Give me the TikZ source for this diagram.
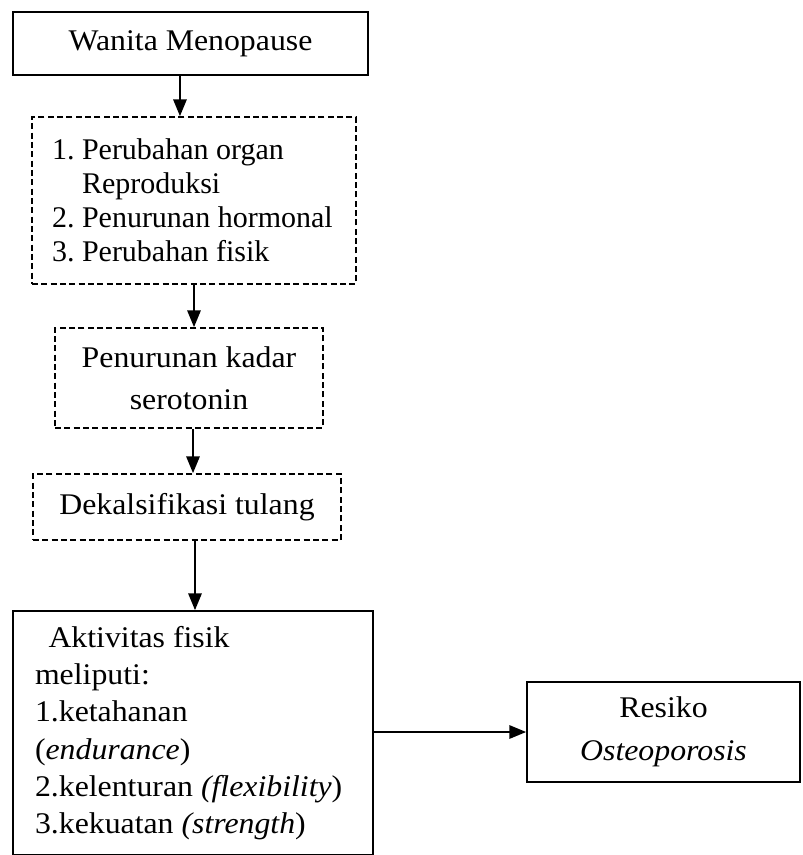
\documentclass[tikz,border=0pt]{standalone}
\usepackage{fontspec}
\setmainfont[FakeStretch=1.06]{Liberation Serif}
\newfontfamily\plainserif{Liberation Serif}
\usetikzlibrary{arrows.meta}
\frenchspacing

\tikzset{every picture/.style={line width=1.3pt}}
\tikzset{
  solidbox/.style={draw, rectangle, inner sep=0pt, font=\fontsize{22.5}{24.75}\selectfont},
  dashbox/.style={solidbox, dash pattern=on 4.5pt off 2.5pt},
  arr/.style={-{Triangle[length=12.5pt,width=10pt]}}
}

\begin{document}
\begin{tikzpicture}[x=0.75pt,y=0.75pt,yscale=-1,xscale=1]
\useasboundingbox (0,0) rectangle (802,855);

%Shape: Rectangle [id:menopause]
\node [solidbox, minimum width=266.25pt, minimum height=47.25pt, align=center] (menopause) at (190.5,43.5) {Wanita Menopause};
%Shape: Rectangle [id:perubahan]
\node [dashbox, minimum width=243pt, minimum height=125.25pt, text width=213pt, inner xsep=15pt, align=flush left, font=\plainserif\fontsize{22.5}{25.5}\selectfont] (perubahan) at (194,200.5) {1. Perubahan organ\\\phantom{1. }Reproduksi\\2. Penurunan hormonal\\3. Perubahan fisik};
%Shape: Rectangle [id:serotonin]
\node [dashbox, minimum width=201pt, minimum height=75pt, align=center, font=\fontsize{22.5}{31.5}\selectfont] (serotonin) at (189,378) {Penurunan kadar\\serotonin};
%Shape: Rectangle [id:dekalsifikasi]
\node [dashbox, minimum width=231pt, minimum height=49.5pt, align=center] (dekalsifikasi) at (187,507) {Dekalsifikasi tulang};
%Shape: Rectangle [id:aktivitas]
\node [solidbox, minimum width=270pt, minimum height=183pt, text width=237pt, inner xsep=16.5pt, align=flush left, font=\fontsize{22.5}{28}\selectfont] (aktivitas) at (193,733) {\hspace*{0.45em}Aktivitas fisik\\meliputi:\\1.ketahanan\\(\textit{endurance})\\2.kelenturan \textit{(flexibility})\\3.kekuatan \textit{(strength})};
%Shape: Rectangle [id:resiko]
\node [solidbox, minimum width=204.75pt, minimum height=75pt, align=center, font=\fontsize{22.5}{32.25}\selectfont] (resiko) at (663.5,732) {Resiko\\\textit{Osteoporosis}};

%Straight Lines
\draw [arr] ([xshift=-7.9pt]menopause.south) -- ([xshift=-7.9pt]menopause.south |- perubahan.north);
\draw [arr] (perubahan.south) -- (perubahan.south |- serotonin.north);
\draw [arr] ([xshift=3pt]serotonin.south) -- ([xshift=3pt]serotonin.south |- dekalsifikasi.north);
\draw [arr] ([xshift=6pt]dekalsifikasi.south) -- ([xshift=6pt]dekalsifikasi.south |- aktivitas.north);
\draw [arr] (aktivitas.east |- resiko.west) -- (resiko.west);

\end{tikzpicture}
\end{document}
